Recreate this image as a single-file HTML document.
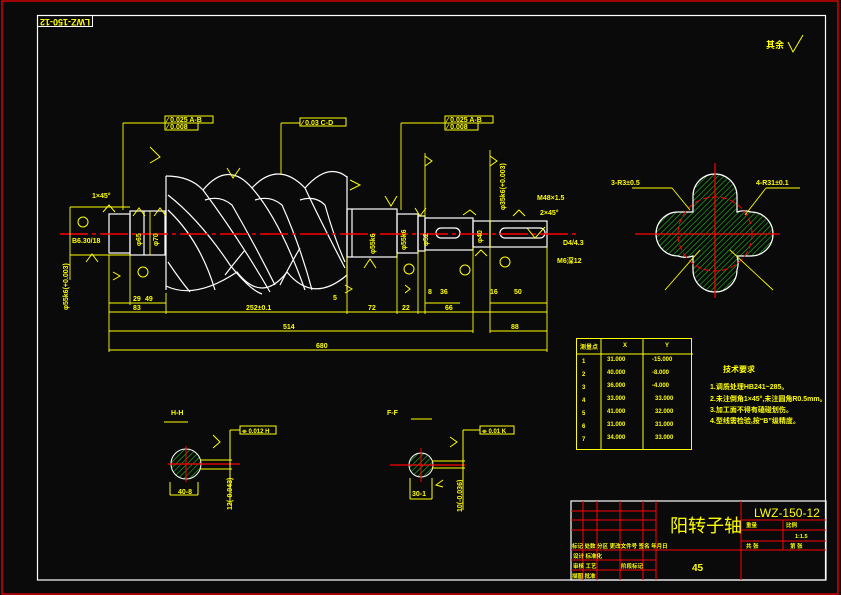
<!DOCTYPE html>
<html><head><meta charset="utf-8"><style>
html,body{margin:0;padding:0;background:#0a0a0a;}
svg{display:block}
text{font-family:"Liberation Sans","Noto Sans CJK SC",sans-serif;fill:#ffff00;font-weight:bold}
</style></head><body>
<svg width="841" height="595" viewBox="0 0 841 595" xmlns="http://www.w3.org/2000/svg">
<defs>
<pattern id="h" width="4" height="4" patternUnits="userSpaceOnUse" patternTransform="rotate(45)">
<rect width="4" height="4" fill="#0a0a0a"/><line x1="0" y1="0" x2="0" y2="4" stroke="#22bb22" stroke-width="1.2"/>
</pattern>
</defs>
<rect width="841" height="595" fill="#0a0a0a"/>
<rect x="2" y="1" width="836" height="593" fill="none" stroke="#ff0000" stroke-width="1.2"/>
<rect x="37.5" y="15.5" width="788" height="564.5" fill="none" stroke="#fff" stroke-width="1.2"/>
<rect x="37.5" y="15.5" width="55" height="11" fill="none" stroke="#fff"/>
<text x="65" y="23" font-size="9" text-anchor="middle" transform="rotate(180 65 21)">LWZ-150-12</text>
<text x="766" y="48" font-size="9">其余</text>
<polyline points="788,42 793,52 803,35" fill="none" stroke="#ff0" stroke-width="1"/>

<!-- shaft -->
<g fill="none" stroke="#fff" stroke-width="1.2">
<rect x="109" y="214" width="21" height="39"/>
<rect x="130" y="211" width="35" height="44"/>
<line x1="144" y1="211" x2="144" y2="255"/>
<line x1="166" y1="176" x2="166" y2="290"/>
<line x1="347" y1="176" x2="347" y2="290"/>
<path d="M166,176 Q190,176 203,190 Q228,160 252,188 Q278,160 305,188 Q328,162 347,177"/>
<path d="M166,286 Q195,300 237,272 Q262,304 287,272 Q313,304 347,275"/>
<rect x="347" y="209" width="50" height="48"/>
<line x1="352" y1="209" x2="352" y2="257"/>
<rect x="397" y="214" width="21" height="39"/>
<rect x="418" y="216" width="7" height="35"/>
<rect x="425" y="218" width="48" height="32"/>
<rect x="473" y="221" width="17" height="26"/>
<rect x="490" y="221" width="57" height="26"/>
<rect x="436" y="228" width="24" height="10" rx="5"/>
<rect x="500" y="228" width="45" height="10" rx="5"/>
<!-- helix -->
<path d="M203,190 Q240,240 270,292 M252,188 Q280,220 305,290 M305,188 Q320,220 345,268"/>
<path d="M168,195 Q200,220 230,265 Q250,290 262,294 M168,210 Q200,240 215,290 M205,200 Q220,195 232,205 Q255,245 275,285"/>
<path d="M255,200 Q270,195 282,205 Q300,245 312,290 M300,200 Q315,195 325,205 Q335,240 345,262"/>
<path d="M168,262 Q180,280 190,292 M225,275 Q235,262 245,250 M280,285 Q290,265 300,248"/>
</g>
<line x1="60" y1="234" x2="580" y2="234" stroke="#ff0000" stroke-width="1.4" stroke-dasharray="28,4,4,4"/>

<!-- dimensions -->
<g stroke="#ff0" stroke-width="0.9" fill="none">
<line x1="109" y1="303" x2="166" y2="303"/><line x1="109" y1="312" x2="547" y2="312"/>
<line x1="109" y1="331" x2="473" y2="331"/><line x1="109" y1="350" x2="547" y2="350"/>
<line x1="490" y1="331" x2="547" y2="331"/><line x1="490" y1="303" x2="547" y2="303"/><line x1="425" y1="303" x2="460" y2="303"/>
<line x1="109" y1="255" x2="109" y2="352"/><line x1="130" y1="255" x2="130" y2="305"/><line x1="166" y1="293" x2="166" y2="314"/>
<line x1="347" y1="257" x2="347" y2="314"/><line x1="397" y1="253" x2="397" y2="314"/><line x1="418" y1="251" x2="418" y2="314"/>
<line x1="425" y1="250" x2="425" y2="314"/><line x1="473" y1="247" x2="473" y2="333"/><line x1="490" y1="150" x2="490" y2="333"/><line x1="547" y1="247" x2="547" y2="352"/>
<line x1="123" y1="123" x2="123" y2="210"/><line x1="123" y1="123" x2="165" y2="123"/>
<line x1="281" y1="123" x2="281" y2="175"/><line x1="281" y1="123" x2="300" y2="123"/>
<line x1="401" y1="123" x2="401" y2="210"/><line x1="401" y1="123" x2="445" y2="123"/>
<line x1="425" y1="153" x2="425" y2="218"/>
<line x1="70" y1="207" x2="130" y2="207"/><line x1="70" y1="255" x2="130" y2="255"/><line x1="70" y1="207" x2="70" y2="280"/>
<line x1="150" y1="211" x2="150" y2="255"/>
</g>
<g stroke="#ff0" fill="none" stroke-width="1">
<rect x="165" y="116" width="48" height="7"/><rect x="165" y="123" width="33" height="7"/>
<rect x="300" y="118" width="46" height="8"/>
<rect x="445" y="116" width="48" height="7"/><rect x="445" y="123" width="33" height="7"/>
<circle cx="143" cy="272" r="5"/><circle cx="409" cy="269" r="5"/><circle cx="465" cy="270" r="5"/><circle cx="505" cy="262" r="5"/><circle cx="83" cy="222" r="5"/>
<polyline points="150,147 160,157 150,163"/><polyline points="227,168 233,178 240,168"/><polyline points="350,190 360,185 350,180"/>
<polyline points="385,196 391,206 397,196"/><polyline points="415,208 420,216 426,208"/><polyline points="425,156 432,161 425,166"/>
<polyline points="490,156 497,161 490,166"/><polyline points="463,215 470,210 476,215"/><polyline points="513,216 519,210 525,216"/>
<polyline points="103,212 109,205 115,212"/><polyline points="133,216 139,208 145,216"/><polyline points="154,216 160,208 166,216"/>
<polyline points="86,262 92,254 98,262"/><polyline points="113,280 120,276 113,272"/><polyline points="364,268 370,259 376,268"/>
<polyline points="345,285 352,289 345,293"/><polyline points="405,285 410,289 405,293"/><polyline points="475,256 481,250 487,256"/>
<polyline points="527,228 535,238 545,227"/>
</g>
<g font-size="7">
<text x="167" y="122">⁄ 0.025 A-B</text><text x="167" y="129">⁄ 0.008</text>
<text x="302" y="125">⁄ 0.03 C-D</text>
<text x="447" y="122">⁄ 0.025 A-B</text><text x="447" y="129">⁄ 0.008</text>
<text x="92" y="198">1×45°</text><text x="72" y="243">B6.30/18</text>
<text x="133" y="301">29</text><text x="145" y="301">49</text><text x="133" y="310">83</text>
<text x="246" y="310">252±0.1</text><text x="368" y="310">72</text><text x="402" y="310">22</text><text x="445" y="310">66</text>
<text x="333" y="300">5</text><text x="428" y="294">8</text><text x="440" y="294">36</text><text x="490" y="294">16</text><text x="514" y="294">50</text>
<text x="283" y="329">514</text><text x="511" y="329">88</text><text x="316" y="348">680</text>
<text x="537" y="200">M48×1.5</text><text x="540" y="215">2×45°</text><text x="563" y="245">D4/4.3</text><text x="557" y="263">M6深12</text>
<text x="611" y="185">3-R3±0.5</text><text x="756" y="185">4-R31±0.1</text>
<text x="171" y="415">H-H</text><text x="387" y="415">F-F</text>
<text x="178" y="494">40-8</text><text x="412" y="496">30-1</text>
</g>
<g font-size="7" >
<text transform="translate(141,246) rotate(-90)">φ65</text><text transform="translate(158,246) rotate(-90)">φ70</text>
<text transform="translate(375,254) rotate(-90)">φ55k6</text><text transform="translate(406,250) rotate(-90)">φ55k6</text>
<text transform="translate(428,246) rotate(-90)">φ52</text><text transform="translate(482,243) rotate(-90)">φ40</text>
<text transform="translate(68,310) rotate(-90)">φ55k6(+0.003)</text><text transform="translate(505,210) rotate(-90)">φ35k6(+0.003)</text>
<text transform="translate(232,510) rotate(-90)">12(-0.043)</text><text transform="translate(462,512) rotate(-90)">10(-0.036)</text>
</g>

<!-- section A -->
<g>
<path d="M693,196 A22,22 0 0 1 737,196 L737,212 A22,22 0 0 1 751,212 A22,22 0 0 1 751,256 L737,256 A22,22 0 0 1 737,270 A22,22 0 0 1 693,270 L693,256 A22,22 0 0 1 678,256 A22,22 0 0 1 678,212 L693,212 Z" fill="url(#h)" stroke="#fff" stroke-width="1.2"/>
<circle cx="715" cy="234" r="37" fill="none" stroke="#ff0000" stroke-dasharray="6,3"/>
<line x1="635" y1="234" x2="780" y2="234" stroke="#ff0000" stroke-width="1.2"/>
<line x1="715" y1="163" x2="715" y2="298" stroke="#ff0000" stroke-width="1.2"/>
<g stroke="#ff0" stroke-width="0.9"><line x1="632" y1="188" x2="672" y2="188"/><line x1="672" y1="188" x2="690" y2="210"/><line x1="766" y1="188" x2="800" y2="188"/><line x1="766" y1="188" x2="745" y2="215"/>
<line x1="665" y1="290" x2="700" y2="250"/><line x1="773" y1="290" x2="730" y2="250"/></g>
</g>
<!-- small sections -->
<g>
<circle cx="186" cy="464" r="15" fill="url(#h)" stroke="#fff"/>
<line x1="168" y1="464" x2="240" y2="464" stroke="#f00" stroke-width="1.2"/><line x1="186" y1="446" x2="186" y2="482" stroke="#f00"/>
<circle cx="421" cy="465" r="12" fill="url(#h)" stroke="#fff"/>
<line x1="390" y1="465" x2="465" y2="465" stroke="#f00" stroke-width="1.2"/><line x1="421" y1="448" x2="421" y2="482" stroke="#f00"/>
<g stroke="#ff0" fill="none">
<line x1="164" y1="422" x2="188" y2="422"/><line x1="411" y1="419" x2="432" y2="419"/>
<line x1="200" y1="460" x2="232" y2="460"/><line x1="200" y1="469" x2="232" y2="469"/><line x1="230" y1="430" x2="230" y2="505"/><line x1="230" y1="430" x2="240" y2="430"/>
<rect x="240" y="426" width="36" height="8"/>
<line x1="432" y1="461" x2="465" y2="461"/><line x1="432" y1="468" x2="465" y2="468"/><line x1="463" y1="430" x2="463" y2="510"/><line x1="463" y1="430" x2="480" y2="430"/>
<rect x="480" y="426" width="34" height="8"/>
<line x1="170" y1="482" x2="170" y2="495"/><line x1="198" y1="482" x2="198" y2="495"/><line x1="170" y1="495" x2="198" y2="495"/>
<line x1="410" y1="478" x2="410" y2="499"/><line x1="432" y1="478" x2="432" y2="499"/><line x1="410" y1="499" x2="432" y2="499"/>
<polyline points="213,435 220,442 213,448"/><polyline points="450,437 457,442 450,447"/><polyline points="443,487 436,485 443,480"/>
</g>
<text x="242" y="433" font-size="6">⌯ 0.012 H</text><text x="482" y="433" font-size="6">⌯ 0.01 K</text>
</g>

<!-- table -->
<g stroke="#ff0" fill="none" stroke-width="1">
<rect x="576.5" y="338.5" width="115" height="111"/>
<line x1="601" y1="338" x2="601" y2="450"/><line x1="643" y1="338" x2="643" y2="450"/><line x1="576" y1="354" x2="693" y2="354"/>
</g>
<g font-size="6">
<text x="580" y="349">测量点</text><text x="623" y="347">X</text><text x="665" y="347">Y</text>
<text x="582" y="363">1</text><text x="607" y="361">31.000</text><text x="652" y="361">-15.000</text>
<text x="582" y="376">2</text><text x="607" y="374">40.000</text><text x="652" y="374">-8.000</text>
<text x="582" y="389">3</text><text x="607" y="387">36.000</text><text x="652" y="387">-4.000</text>
<text x="582" y="402">4</text><text x="607" y="400">33.000</text><text x="655" y="400">33.000</text>
<text x="582" y="415">5</text><text x="607" y="413">41.000</text><text x="655" y="413">32.000</text>
<text x="582" y="428">6</text><text x="607" y="426">31.000</text><text x="655" y="426">31.000</text>
<text x="582" y="441">7</text><text x="607" y="439">34.000</text><text x="655" y="439">33.000</text>
</g>
<g font-size="7">
<text x="723" y="372" font-size="8">技术要求</text>
<text x="710" y="389">1.调质处理HB241~285。</text>
<text x="710" y="401">2.未注倒角1×45°,未注圆角R0.5mm。</text>
<text x="710" y="412">3.加工面不得有磕碰划伤。</text>
<text x="710" y="423">4.型线需检验,按“B”级精度。</text>
</g>

<!-- title block -->
<rect x="571" y="501" width="255" height="79" fill="none" stroke="#fff" stroke-width="1.2"/>
<g stroke="#f00" stroke-width="1">
<line x1="583" y1="501" x2="583" y2="580"/><line x1="597" y1="501" x2="597" y2="580"/><line x1="620" y1="501" x2="620" y2="580"/><line x1="643" y1="501" x2="643" y2="580"/><line x1="656" y1="501" x2="656" y2="580"/>
<line x1="741" y1="501" x2="741" y2="580"/><line x1="783" y1="520" x2="783" y2="550"/>
<line x1="571" y1="511" x2="656" y2="511"/><line x1="571" y1="520" x2="656" y2="520"/><line x1="571" y1="530" x2="656" y2="530"/>
<line x1="571" y1="560" x2="656" y2="560"/><line x1="571" y1="570" x2="656" y2="570"/>
<line x1="571" y1="550" x2="826" y2="550"/><line x1="741" y1="520" x2="826" y2="520"/><line x1="741" y1="530" x2="826" y2="530"/><line x1="741" y1="541" x2="826" y2="541"/>
</g>
<text x="670" y="532" font-size="18" style="font-weight:normal">阳转子轴</text>
<text x="754" y="517" font-size="12" style="font-weight:normal">LWZ-150-12</text>
<text x="692" y="571" font-size="10">45</text>
<g font-size="5.5">
<text x="572" y="548">标记 处数 分区 更改文件号 签名 年月日</text>
<text x="573" y="558">设计 标准化</text><text x="573" y="568">审核 工艺</text><text x="572" y="578">描图 批准</text>
<text x="621" y="568">阶段标记</text><text x="746" y="527">重量</text><text x="786" y="527">比例</text><text x="795" y="538">1:1.5</text>
<text x="746" y="548">共 张</text><text x="790" y="548">第 张</text>
</g>
</svg>
</body></html>
